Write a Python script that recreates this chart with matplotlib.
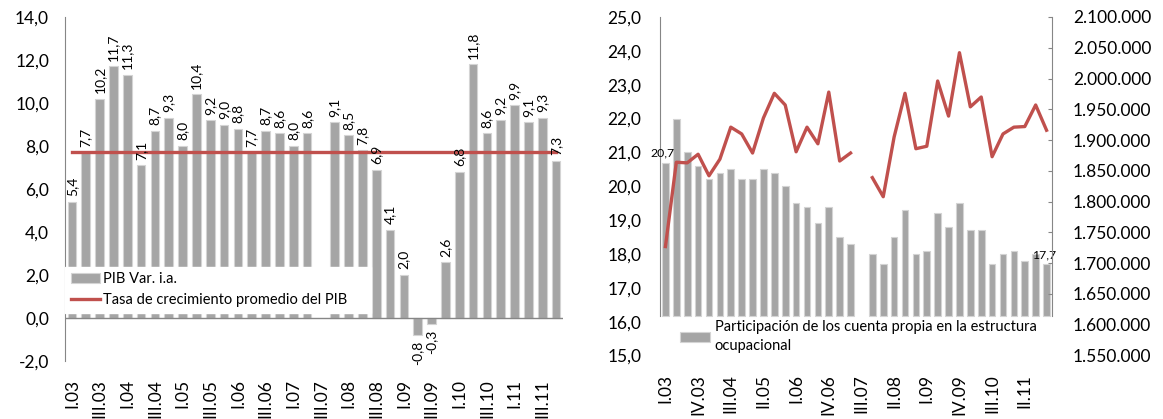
import numpy as np
import matplotlib
matplotlib.use("Agg")
import matplotlib.pyplot as plt
from matplotlib.ticker import FuncFormatter

plt.rcParams['font.family'] = ['Lato', 'DejaVu Sans']

# quarters I.03 .. IV.11
quarters = ['I.03', 'II.03', 'III.03', 'IV.03', 'I.04', 'II.04', 'III.04', 'IV.04',
            'I.05', 'II.05', 'III.05', 'IV.05', 'I.06', 'II.06', 'III.06', 'IV.06',
            'I.07', 'II.07', 'III.07', 'IV.07', 'I.08', 'II.08', 'III.08', 'IV.08',
            'I.09', 'II.09', 'III.09', 'IV.09', 'I.10', 'II.10', 'III.10', 'IV.10',
            'I.11', 'II.11', 'III.11', 'IV.11']

# PIB var. interanual (%), III.07 sin dato
pib = [5.4, 7.7, 10.2, 11.7, 11.3, 7.1, 8.7, 9.3, 8.0, 10.4, 9.2, 9.0,
       8.8, 7.7, 8.7, 8.6, 8.0, 8.6, np.nan, 9.1, 8.5, 7.8, 6.9, 4.1,
       2.0, -0.8, -0.3, 2.6, 6.8, 11.8, 8.6, 9.2, 9.9, 9.1, 9.3, 7.3]
pib_promedio = 7.7

# participacion de los cuenta propia (%)
cuenta_propia = [20.7, 22.0, 21.0, 20.6, 20.2, 20.4, 20.5, 20.2, 20.2, 20.5, 20.4, 20.0,
                 19.5, 19.4, 18.9, 19.4, 18.5, 18.3, np.nan, 18.0, 17.7, 18.5, 19.3, 18.0,
                 18.1, 19.2, 18.8, 19.5, 18.7, 18.7, 17.7, 18.0, 18.1, 17.8, 18.0, 17.7]

# cantidad de cuenta propia
ocupados_cp = [1727000, 1864000, 1863000, 1877000, 1842000, 1869000, 1921000, 1910000,
               1879000, 1936000, 1976000, 1957000, 1881000, 1921000, 1894000, 1978000,
               1866000, 1879000, np.nan, 1839000, 1808000, 1905000, 1976000, 1886000,
               1890000, 1996000, 1939000, 2042000, 1954000, 1970000, 1873000, 1910000,
               1921000, 1922000, 1957000, 1916000]

gris = '#a5a5a5'
borde = '#d4d4d4'
rojo = '#c0504d'
eje = '#868686'

coma = FuncFormatter(lambda v, p: f"{v:.1f}".replace('.', ','))
miles = FuncFormatter(lambda v, p: f"{int(round(v)):,}".replace(',', '.'))

x = np.arange(len(quarters))
W, H = 1163, 419
fig = plt.figure(figsize=(W / 100, H / 100), dpi=100)

# ---- panel izquierdo: PIB ----
ax1 = fig.add_axes([65 / W, 1 - 361 / H, 498 / W, 344 / H])
barras = ax1.bar(x, pib, width=0.62, color=gris, edgecolor=borde, linewidth=0.8,
                 label='PIB Var. i.a.')
linea, = ax1.plot([x[0], x[-1]], [pib_promedio, pib_promedio], color=rojo, lw=2.4,
                  label='Tasa de crecimiento promedio del PIB')
for xi, v in zip(x, pib):
    if np.isnan(v):
        continue
    ax1.annotate(f"{v:.1f}".replace('.', ','), (xi, v),
                 xytext=(0, 4 if v >= 0 else -4), textcoords='offset points',
                 rotation=90, ha='center', va='bottom' if v >= 0 else 'top',
                 fontsize=10)
ax1.axhline(0, color=eje, lw=1)
ax1.set_xlim(-0.5, len(x) - 0.5)
ax1.set_ylim(-2, 14)
ax1.set_yticks(np.arange(-2, 15, 2))
ax1.yaxis.set_major_formatter(coma)
ax1.set_xticks(x[::2])
ax1.set_xticklabels(quarters[::2], rotation=90, va='top')
ax1.tick_params(axis='y', length=0, pad=11.5, labelsize=12.5)
ax1.tick_params(axis='x', length=0, pad=13, labelsize=12.5)
for s in ['top', 'right', 'bottom']:
    ax1.spines[s].set_visible(False)
ax1.spines['left'].set_color(eje)
# leyenda con fondo blanco, tapa la base de las barras
leg = ax1.legend(handles=[barras, linea], loc='lower left',
                 bbox_to_anchor=(0.0, 0.14, 0.615, 0.13), mode='expand',
                 borderaxespad=0, frameon=True, fancybox=False, fontsize=10.5,
                 handlelength=2.0, handletextpad=0.2, labelspacing=0.45, borderpad=0.4)
leg.get_frame().set_facecolor('white')
leg.get_frame().set_edgecolor('white')
leg.get_frame().set_alpha(1)

# ---- panel derecho: cuenta propia ----
base = 16.18
ax2 = fig.add_axes([660 / W, 1 - 355.5 / H, 392 / W, 338.5 / H])
ax2.bar(x, np.array(cuenta_propia) - base, bottom=base, width=0.62, color=gris,
        edgecolor=borde, linewidth=0.8,
        label='Participación de los cuenta propia en la estructura\nocupacional')
for i in (0, len(x) - 1):
    ax2.annotate(f"{cuenta_propia[i]:.1f}".replace('.', ','), (x[i], cuenta_propia[i]),
                 xytext=(-2, 3), textcoords='offset points', ha='center', va='bottom',
                 fontsize=8.8)
ax2.set_xlim(-0.5, len(x) - 0.5)
ax2.set_ylim(15, 25)
ax2.set_yticks(np.arange(15, 26, 1))
ax2.yaxis.set_major_formatter(coma)
ax2.set_xticks(x[::3])
ax2.set_xticklabels(quarters[::3], rotation=90, va='top')
ax2.tick_params(axis='y', length=0, pad=13.5, labelsize=12.5)
ax2.tick_params(axis='x', length=0, pad=13.5, labelsize=12.5)
for s in ['top', 'right', 'bottom']:
    ax2.spines[s].set_visible(False)
ax2.spines['left'].set_color(eje)
ax2.spines['left'].set_bounds(base, 25)
leg2 = ax2.legend(loc='upper left', bbox_to_anchor=(0.05, 0.105), borderaxespad=0,
                  frameon=False, fontsize=10.5, handlelength=2.1, handleheight=0.7,
                  handletextpad=0.3, borderpad=0)
leg2.get_texts()[0].set_linespacing(1.45)

ax3 = ax2.twinx()
ax3.plot(x, ocupados_cp, color=rojo, lw=2.4)
ax3.set_ylim(1550000, 2100000)
ax3.set_yticks(np.arange(1550000, 2100001, 50000))
ax3.yaxis.set_major_formatter(miles)
ax3.tick_params(axis='y', direction='in', length=3, color=eje, pad=15, labelsize=12.5)
for s in ['top', 'left', 'bottom']:
    ax3.spines[s].set_visible(False)
piso = 1550000 + (base - 15) / 10 * 550000
ax3.spines['right'].set_color(eje)
ax3.spines['right'].set_bounds(piso, 2100000)
for t, loc in zip(ax3.yaxis.get_major_ticks(), ax3.get_yticks()):
    if loc < piso:
        t.tick2line.set_visible(False)

fig.savefig('out.png', dpi=100)
